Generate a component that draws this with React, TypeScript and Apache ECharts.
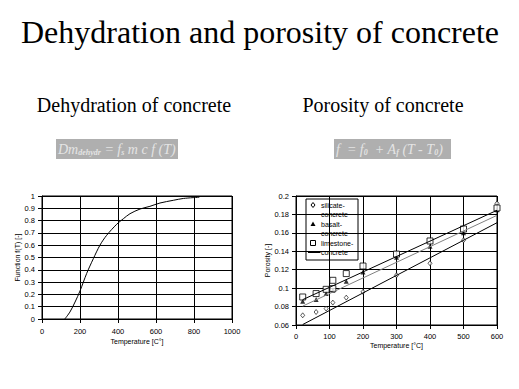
import React, { useEffect, useRef } from "react";
import * as echarts from "echarts";

// ---- Dehydration of concrete ----
const dehydTemp = [120, 147, 174, 200, 235, 270, 305, 340, 393, 428, 463, 516, 568, 621, 691, 744, 828];
const dehydFunc = [0, 0.057, 0.138, 0.228, 0.37, 0.49, 0.6, 0.68, 0.77, 0.815, 0.856, 0.894, 0.916, 0.943, 0.965, 0.98, 0.99];

// ---- Porosity of concrete (measured) ----
const silicateTemp = [20, 60, 90, 110, 150, 200, 300, 400, 500, 600];
const silicatePor = [0.0705, 0.0741, 0.0778, 0.0843, 0.0897, 0.096, 0.114, 0.127, 0.152, 0.192];
const basaltTemp = [20, 60, 90, 110, 150, 200, 300, 400, 500, 600];
const basaltPor = [0.0857, 0.0876, 0.0941, 0.0977, 0.1074, 0.1175, 0.1334, 0.1454, 0.16, 0.185];
const limestoneTemp = [20, 60, 90, 110, 110, 150, 200, 300, 400, 500, 600];
const limestonePor = [0.0904, 0.0941, 0.0987, 0.1085, 0.0995, 0.1158, 0.124, 0.137, 0.1512, 0.1642, 0.187];

// ---- Porosity linear fits ----
const silicateFitTemp = [20, 600];
const silicateFitPor = [0.0605, 0.171];
const basaltFitTemp = [20, 600];
const basaltFitPor = [0.0805, 0.179];
const limestoneFitTemp = [20, 600];
const limestoneFitPor = [0.0875, 0.1845];

// ---- Texts ----
const mainTitle = "Dehydration and porosity of concrete";
const leftTitle = "Dehydration of concrete";
const rightTitle = "Porosity of concrete";
const legendRows = ["silicate-", "concrete", "basalt-", "concrete", "limestone-", "concrete"];

const zip = (a: number[], b: number[]) => a.map((v, i) => [v, b[i]]);

const SANS = "Liberation Sans";
const SERIF = "Liberation Serif";

export default function App() {
  const ref = useRef<HTMLDivElement>(null);
  useEffect(() => {
    if (!ref.current) return;
    const chart = echarts.init(ref.current, undefined, { renderer: "svg" });
    const axisLabel = { fontFamily: SANS, fontSize: 7.5, color: "#000", formatter: (v: number) => String(+v.toFixed(2)) };
    const axisCommon = {
      type: "value" as const,
      axisLine: { show: true, lineStyle: { color: "#000", width: 1 } },
      axisTick: { show: true, inside: false, length: 4, lineStyle: { color: "#000" } },
      splitLine: { show: true, lineStyle: { color: "#000", width: 1 } },
      nameLocation: "middle" as const,
      nameTextStyle: { fontFamily: SANS, fontSize: 7, color: "#000" },
    };
    const formulaRich = {
      n: { fontFamily: SERIF, fontStyle: "italic", fontSize: 14, fill: "#e4e4e4", lineHeight: 18, verticalAlign: "bottom" },
      s: { fontFamily: SERIF, fontStyle: "italic", fontWeight: "bold", fontSize: 8, fill: "#e4e4e4", lineHeight: 13, verticalAlign: "bottom" },
    };
    const lx = 313, ly0 = 205, lstep = 9.5;
    const legendEls: any[] = [
      { type: "rect", shape: { x: 306, y: 199, width: 52, height: 61 }, style: { fill: "#fff", stroke: "#000", lineWidth: 1 } },
    ];
    legendRows.forEach((t, i) => {
      const y = ly0 + i * lstep;
      legendEls.push({
        type: "text",
        style: { text: t, x: 321, y, fontFamily: SANS, fontSize: 7, fill: "#000", verticalAlign: "middle", align: "left" },
      });
    });
    legendEls.push({ type: "polygon", shape: { points: [[lx, ly0 - 2.5], [lx + 2, ly0], [lx, ly0 + 2.5], [lx - 2, ly0]] }, style: { fill: "#fff", stroke: "#000", lineWidth: 1 } });
    const ty = ly0 + 2 * lstep;
    legendEls.push({ type: "polygon", shape: { points: [[lx, ty - 2.5], [lx + 2.5, ty + 2], [lx - 2.5, ty + 2]] }, style: { fill: "#000" } });
    const sy = ly0 + 4 * lstep;
    legendEls.push({ type: "rect", shape: { x: lx - 2.5, y: sy - 2.5, width: 5, height: 5 }, style: { fill: "#fff", stroke: "#000", lineWidth: 1 } });
    [1, 3, 5].forEach((r) => {
      const y = ly0 + r * lstep;
      legendEls.push({ type: "line", shape: { x1: 308, y1: y, x2: 320.5, y2: y }, style: { stroke: r === 3 ? "#808080" : "#000", lineWidth: 1 } });
    });

    chart.setOption({
      animation: false,
      backgroundColor: "#fff",
      grid: [
        { left: 42, top: 196, width: 190, height: 123, show: true, borderColor: "#000", borderWidth: 1, backgroundColor: "transparent" },
        { left: 296, top: 196, width: 201, height: 129, show: true, borderColor: "#000", borderWidth: 1, backgroundColor: "transparent" },
      ],
      xAxis: [
        { ...axisCommon, gridIndex: 0, min: 0, max: 1000, interval: 200, name: "Temperature [C°]", nameGap: 19, axisLabel: { ...axisLabel, margin: 8 } },
        { ...axisCommon, gridIndex: 1, min: 0, max: 600, interval: 100, name: "Temperature [°C]", nameGap: 17, axisLabel: { ...axisLabel, margin: 7 } },
      ],
      yAxis: [
        { ...axisCommon, gridIndex: 0, min: 0, max: 1, interval: 0.1, name: "Function f(T) [-]", nameGap: 21, axisLabel: { ...axisLabel, margin: 7 } },
        { ...axisCommon, gridIndex: 1, min: 0.06, max: 0.2, interval: 0.02, name: "Porosity [-]", nameGap: 23, axisLabel: { ...axisLabel, margin: 7 } },
      ],
      series: [
        { type: "line", xAxisIndex: 0, yAxisIndex: 0, data: zip(dehydTemp, dehydFunc), smooth: 0.3, showSymbol: false, lineStyle: { color: "#000", width: 1 } },
        { type: "line", xAxisIndex: 1, yAxisIndex: 1, data: zip(silicateFitTemp, silicateFitPor), showSymbol: false, lineStyle: { color: "#000", width: 1 } },
        { type: "line", xAxisIndex: 1, yAxisIndex: 1, data: zip(basaltFitTemp, basaltFitPor), showSymbol: false, lineStyle: { color: "#808080", width: 1 } },
        { type: "line", xAxisIndex: 1, yAxisIndex: 1, data: zip(limestoneFitTemp, limestoneFitPor), showSymbol: false, lineStyle: { color: "#000", width: 1 } },
        { type: "scatter", xAxisIndex: 1, yAxisIndex: 1, data: zip(silicateTemp, silicatePor), symbol: "diamond", symbolSize: [4, 5], itemStyle: { color: "#fff", borderColor: "#000", borderWidth: 0.8 } },
        { type: "scatter", xAxisIndex: 1, yAxisIndex: 1, data: zip(basaltTemp, basaltPor), symbol: "triangle", symbolSize: 5, itemStyle: { color: "#000" } },
        { type: "scatter", xAxisIndex: 1, yAxisIndex: 1, data: zip(limestoneTemp, limestonePor), symbol: "rect", symbolSize: 6, itemStyle: { color: "#fff", borderColor: "#000", borderWidth: 1 } },
      ],
      graphic: [
        { type: "text", z: 100, style: { text: mainTitle, x: 260, y: 16, align: "center", verticalAlign: "top", fontFamily: SERIF, fontSize: 32, fill: "#000" } },
        { type: "text", z: 100, style: { text: leftTitle, x: 134, y: 95, align: "center", verticalAlign: "top", fontFamily: SERIF, fontSize: 20, fill: "#000" } },
        { type: "text", z: 100, style: { text: rightTitle, x: 383, y: 95, align: "center", verticalAlign: "top", fontFamily: SERIF, fontSize: 20, fill: "#000" } },
        { type: "rect", z: 100, shape: { x: 56, y: 139, width: 122, height: 20 }, style: { fill: "#afafaf" } },
        { type: "rect", z: 100, shape: { x: 334, y: 139, width: 117, height: 20 }, style: { fill: "#afafaf" } },
        {
          type: "text", z: 101,
          style: { text: "{n|Dm}{s|dehydr}{n| = f}{s|s}{n| m c f (T)}", x: 58, y: 138, rich: formulaRich, fill: "#e4e4e4" },
        },
        {
          type: "text", z: 101,
          style: { text: "{n|f  = f}{s|0}{n|  + A}{s|f}{n| (T - T}{s|0}{n|)}", x: 336, y: 138, rich: formulaRich, fill: "#e4e4e4" },
        },
        { type: "group", z: 100, children: legendEls },
      ],
    });
    return () => chart.dispose();
  }, []);
  return <div ref={ref} style={{ position: "fixed", left: 0, top: 0, width: 519, height: 389, background: "#fff" }} />;
}
